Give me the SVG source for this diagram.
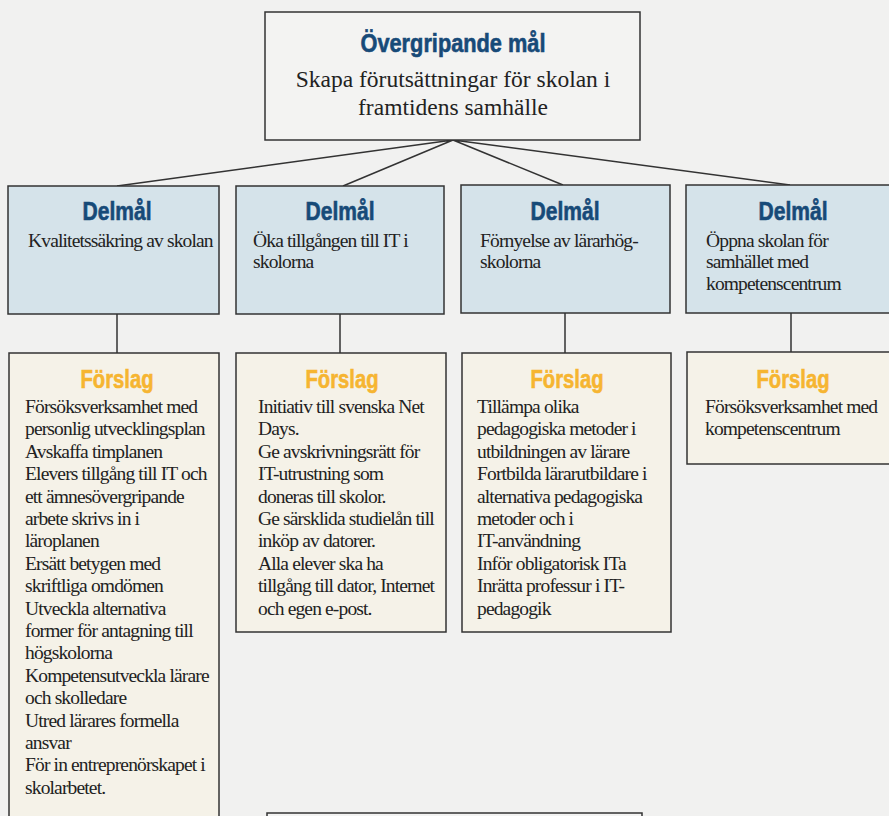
<svg xmlns="http://www.w3.org/2000/svg" width="889" height="816" viewBox="0 0 889 816">
<style>
.bg{fill:#f1f1f0}
.box{stroke:#333;stroke-width:1.5}
.top{fill:#f3f3f2}
.del{fill:#d5e3ea}
.for{fill:#f5f2e8}
.hd{font-family:"Liberation Sans","DejaVu Sans Condensed",sans-serif;font-weight:bold;font-size:25px;text-anchor:middle;stroke-width:0.6px}
.blue{fill:#174a78;stroke:#174a78}
.orange{fill:#f6b531;stroke:#f6b531}
.sub{font-family:"Liberation Serif","Times New Roman",serif;font-size:23.5px;fill:#222;text-anchor:middle}
.txt{font-family:"Liberation Serif","Times New Roman",serif;font-size:19.5px;fill:#222;letter-spacing:-0.85px}
.ln{stroke:#333;stroke-width:1.5;fill:none}
</style>
<rect class="bg" x="0" y="0" width="889" height="816"/>
<g id="connectors">
<path class="ln" d="M453,140 L117,186 M453,140 L343,186 M453,140 L563,185 M453,140 L790,185"/>
<path class="ln" d="M117,314 V353 M340,314 V353 M565,313 V353 M791,313 V352"/>
</g>
<g id="overgripande">
<rect class="box top" x="265" y="12" width="375" height="128"/>
<text class="hd blue" x="453" y="52" textLength="185" lengthAdjust="spacingAndGlyphs">Övergripande mål</text>
<text class="sub" x="453" y="87">Skapa förutsättningar för skolan i</text>
<text class="sub" x="453" y="115">framtidens samhälle</text>
</g>
<g id="delmal1">
<rect class="box del" x="8" y="186" width="211" height="128"/>
<text class="hd blue" x="117" y="220" textLength="69" lengthAdjust="spacingAndGlyphs">Delmål</text>
<text class="txt" x="28" y="247">Kvalitetssäkring av skolan</text>
</g>
<g id="delmal2">
<rect class="box del" x="236" y="186" width="208" height="128"/>
<text class="hd blue" x="340" y="220" textLength="69" lengthAdjust="spacingAndGlyphs">Delmål</text>
<text class="txt" x="253" y="247">Öka tillgången till IT i</text>
<text class="txt" x="253" y="268">skolorna</text>
</g>
<g id="delmal3">
<rect class="box del" x="461" y="185" width="209" height="128"/>
<text class="hd blue" x="565" y="220" textLength="69" lengthAdjust="spacingAndGlyphs">Delmål</text>
<text class="txt" x="480" y="247">Förnyelse av lärarhög-</text>
<text class="txt" x="480" y="268">skolorna</text>
</g>
<g id="delmal4">
<rect class="box del" x="686" y="185" width="220" height="128"/>
<text class="hd blue" x="793" y="220" textLength="69" lengthAdjust="spacingAndGlyphs">Delmål</text>
<text class="txt" x="706" y="247">Öppna skolan för</text>
<text class="txt" x="706" y="268">samhället med</text>
<text class="txt" x="706" y="290">kompetenscentrum</text>
</g>
<g id="forslag1">
<rect class="box for" x="9" y="353" width="210" height="480"/>
<text class="hd orange" x="117" y="388" textLength="73" lengthAdjust="spacingAndGlyphs">Förslag</text>
<text class="txt" x="25" y="413">Försöksverksamhet med</text>
<text class="txt" x="25" y="435.4">personlig utvecklingsplan</text>
<text class="txt" x="25" y="457.8">Avskaffa timplanen</text>
<text class="txt" x="25" y="480.2">Elevers tillgång till IT och</text>
<text class="txt" x="25" y="502.6">ett ämnesövergripande</text>
<text class="txt" x="25" y="525">arbete skrivs in i</text>
<text class="txt" x="25" y="547.4">läroplanen</text>
<text class="txt" x="25" y="569.8">Ersätt betygen med</text>
<text class="txt" x="25" y="592.2">skriftliga omdömen</text>
<text class="txt" x="25" y="614.6">Utveckla alternativa</text>
<text class="txt" x="25" y="637">former för antagning till</text>
<text class="txt" x="25" y="659.4">högskolorna</text>
<text class="txt" x="25" y="681.8">Kompetensutveckla lärare</text>
<text class="txt" x="25" y="704.2">och skolledare</text>
<text class="txt" x="25" y="726.6">Utred lärares formella</text>
<text class="txt" x="25" y="749">ansvar</text>
<text class="txt" x="25" y="771.4">För in entreprenörskapet i</text>
<text class="txt" x="25" y="793.8">skolarbetet.</text>
</g>
<g id="forslag2">
<rect class="box for" x="236" y="353" width="210" height="279"/>
<text class="hd orange" x="342" y="388" textLength="73" lengthAdjust="spacingAndGlyphs">Förslag</text>
<text class="txt" x="258" y="413">Initiativ till svenska Net</text>
<text class="txt" x="258" y="435.4">Days.</text>
<text class="txt" x="258" y="457.8">Ge avskrivningsrätt för</text>
<text class="txt" x="258" y="480.2">IT-utrustning som</text>
<text class="txt" x="258" y="502.6">doneras till skolor.</text>
<text class="txt" x="258" y="525">Ge särsklida studielån till</text>
<text class="txt" x="258" y="547.4">inköp av datorer.</text>
<text class="txt" x="258" y="569.8">Alla elever ska ha</text>
<text class="txt" x="258" y="592.2">tillgång till dator, Internet</text>
<text class="txt" x="258" y="614.6">och egen e-post.</text>
</g>
<g id="forslag3">
<rect class="box for" x="462" y="353" width="209" height="279"/>
<text class="hd orange" x="567" y="388" textLength="73" lengthAdjust="spacingAndGlyphs">Förslag</text>
<text class="txt" x="477" y="413">Tillämpa olika</text>
<text class="txt" x="477" y="435.4">pedagogiska metoder i</text>
<text class="txt" x="477" y="457.8">utbildningen av lärare</text>
<text class="txt" x="477" y="480.2">Fortbilda lärarutbildare i</text>
<text class="txt" x="477" y="502.6">alternativa pedagogiska</text>
<text class="txt" x="477" y="525">metoder och i</text>
<text class="txt" x="477" y="547.4">IT-användning</text>
<text class="txt" x="477" y="569.8">Inför obligatorisk ITa</text>
<text class="txt" x="477" y="592.2">Inrätta professur i IT-</text>
<text class="txt" x="477" y="614.6">pedagogik</text>
</g>
<g id="forslag4">
<rect class="box for" x="687" y="352" width="220" height="112"/>
<text class="hd orange" x="793" y="388" textLength="73" lengthAdjust="spacingAndGlyphs">Förslag</text>
<text class="txt" x="705" y="413">Försöksverksamhet med</text>
<text class="txt" x="705" y="435.4">kompetenscentrum</text>
</g>
<g id="bottom">
<rect class="box top" x="267" y="813" width="375" height="40"/>
</g>
</svg>
